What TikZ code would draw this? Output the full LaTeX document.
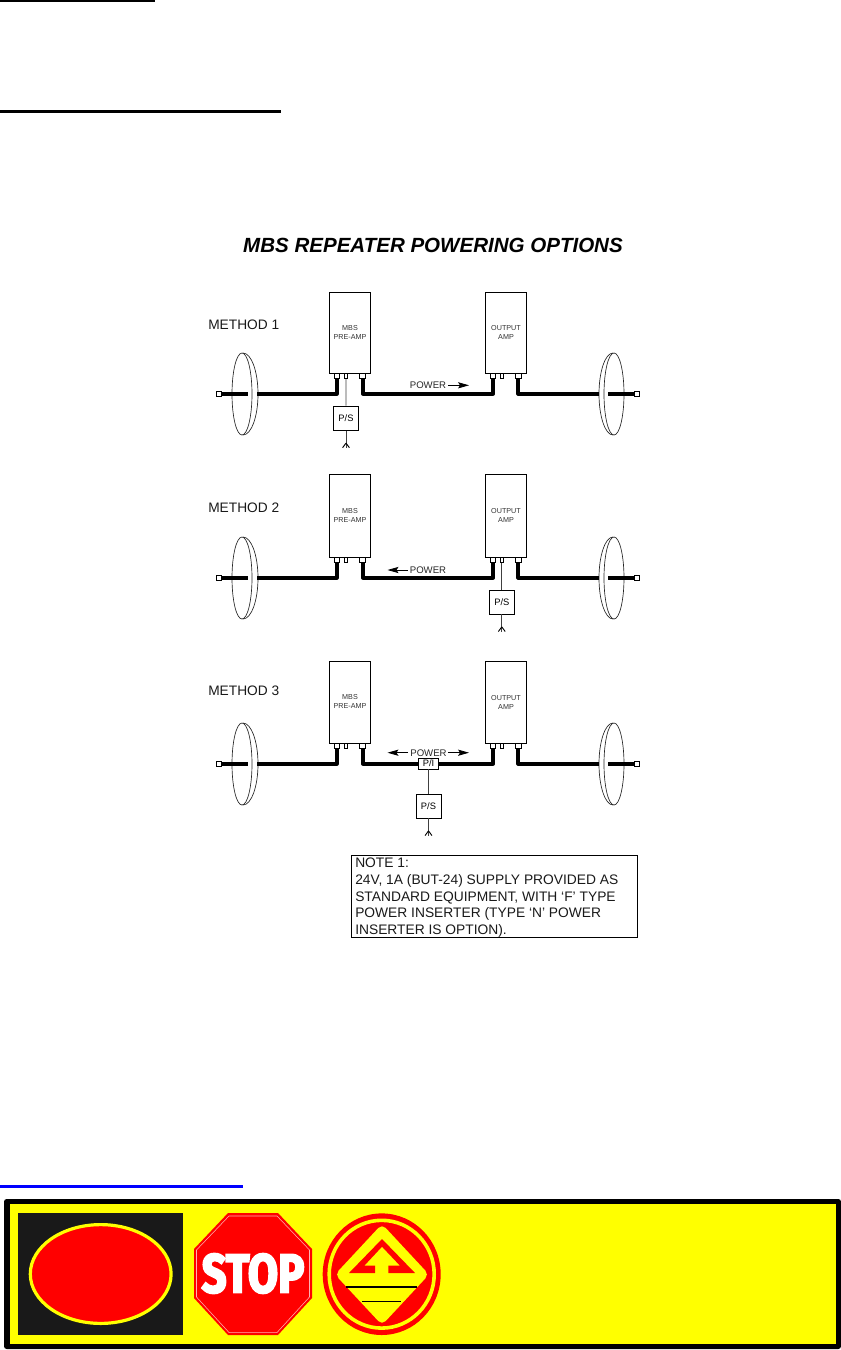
\documentclass[tikz,border=0pt]{standalone}
\usepackage{fontspec}
\usepackage{graphicx}
\setmainfont{Liberation Sans}
\newfontfamily\stopfont[BoldFeatures={FakeBold=4}]{Fira Sans}
\usetikzlibrary{arrows.meta}
\definecolor{sigyellow}{RGB}{255,255,0}
\definecolor{sigred}{RGB}{255,0,0}
\definecolor{sigblue}{RGB}{0,0,255}
\newcommand{\uu}{0.75pt}
\tikzset{
  x=0.75pt,y=-0.75pt,
  rule/.style={line width=2.25pt,line cap=butt},
  ampbox/.style={draw,line width=0.75pt,fill=white,minimum width=41*\uu,inner sep=0pt,font=\fontsize{5.4pt}{6.4pt}\selectfont,align=center,text=black!80},
  port/.style={draw,line width=0.7pt,fill=white,inner sep=0pt,minimum height=5*\uu},
  endsq/.style={draw,line width=0.7pt,fill=white,inner sep=0pt,minimum width=5*\uu,minimum height=5*\uu},
  psbox/.style={draw,line width=0.7pt,fill=white,inner sep=0pt,minimum width=25*\uu,minimum height=24*\uu,font=\fontsize{7pt}{8pt}\selectfont},
  cable/.style={line width=3pt,line join=round,line cap=butt},
  feed/.style={line width=0.55pt,black!75},
  dishline/.style={line width=0.5pt,black!85},
  powerlabel/.style={inner sep=0pt,font=\fontsize{7.2pt}{8pt}\selectfont,text=black!85},
  powerarrow/.style={line width=0.6pt,-{Stealth[length=8.2pt,width=4.6pt,inset=1.5pt]}},
  methodlabel/.style={inner sep=0pt,anchor=west,font=\fontsize{10.3pt}{12pt}\selectfont,text=black!90},
}
% one row: id, y offset, extra box height upward
\newcommand{\repeaterrow}[3]{%
  \begin{scope}[yshift=-#2*\uu]
    \node[ampbox,minimum height=(81+#3)*\uu] (pre#1) at (350,332.8-#3/2) {\raisebox{1.1pt}{\shortstack[c]{MBS\\PRE-AMP}}};
    \node[ampbox,minimum height=(81+#3)*\uu] (out#1) at (506,332.8-#3/2) {\raisebox{-2pt}{\shortstack[c]{OUTPUT\\AMP}}};
    \node[port,minimum width=5.2*\uu] (pa#1) at (336.9,375.8) {};
    \node[port,minimum width=3.4*\uu] (pb#1) at (345.9,375.8) {};
    \node[port,minimum width=6*\uu]   (pc#1) at (362.7,375.8) {};
    \node[port,minimum width=5.2*\uu] (oa#1) at (493.2,375.8) {};
    \node[port,minimum width=3.4*\uu] (ob#1) at (501.8,375.8) {};
    \node[port,minimum width=6*\uu]   (oc#1) at (518.4,375.8) {};
    \node[endsq] (ls#1) at (219,393.5) {};
    \node[endsq] (rs#1) at (637,393.5) {};
    \coordinate (li#1) at (248,393.5);
    \coordinate (lo#1) at (257,393.5);
    \coordinate (ro#1) at (599,393.5);
    \coordinate (ri#1) at (608,393.5);
    \draw[dishline] (242,394) ellipse [x radius=10*\uu,y radius=41*\uu];
    \draw[dishline] (243,353) arc [start angle=90,end angle=-90,x radius=15*\uu,y radius=41*\uu];
    \draw[dishline] (614,394) ellipse [x radius=10*\uu,y radius=41*\uu];
    \draw[dishline] (613,353) arc [start angle=90,end angle=270,x radius=14*\uu,y radius=41*\uu];
    \draw[cable] (ls#1.east) -- (li#1);
    \draw[cable] (lo#1) -| (pa#1.south);
    \draw[cable] (oc#1.south) |- (ro#1);
    \draw[cable] (ri#1) -- (rs#1.west);
  \end{scope}}
% P/S with its feed: id, x, y of the box centre, node it feeds
\newcommand{\psfeed}[4]{%
  \node[psbox] (ps#1) at (#2,#3) {P/S};
  \coordinate (ant#1) at (#2,#3+29.5);
  \draw[feed] (#4.south) -- (ps#1.north);
  \draw[feed] (ps#1.south) -- (ant#1);
  \draw[line width=0.7pt] ([yshift=4.6*\uu]ant#1) -- ++(-3.4,4.6) ([yshift=4.6*\uu]ant#1) -- ++(3.4,4.6);}
\begin{document}
\begin{tikzpicture}
\useasboundingbox (0,0) rectangle (841,1350);
% rules
\coordinate (ta) at (0,1); \coordinate (tb) at (155,1);
\draw[line width=1.6pt] (ta) -- (tb);
\coordinate (tc) at (0,111.5); \coordinate (td) at (281,111.5);
\draw[rule] (tc) -- (td);
\coordinate (bl) at (0,1186.5); \coordinate (br) at (243,1186.5);
\draw[rule,sigblue] (bl) -- (br);
% title
\node[inner sep=0pt,font=\fontsize{15.4pt}{17pt}\selectfont\bfseries\itshape] (title) at (433,245.5) {MBS REPEATER POWERING OPTIONS};
% method labels
\node[methodlabel] (m1) at (208,324.5) {METHOD 1};
\node[methodlabel] (m2) at (208,507.5) {METHOD 2};
\node[methodlabel] (m3) at (208,691) {METHOD 3};
% rows
\repeaterrow{1}{0}{0}
\repeaterrow{2}{184}{1.8}
\repeaterrow{3}{370}{1.3}
% row 1 middle
\coordinate (mid1) at (428,393.5);
\draw[cable] (pc1.south) |- (mid1) -| (oa1.south);
\psfeed{1}{346}{418.2}{pb1}
\node[powerlabel] (pw1) at (428,385.3) {POWER};
\coordinate (pw1a) at (448,385.3); \coordinate (pw1b) at (469,385.3);
\draw[powerarrow] (pw1a) -- (pw1b);
% row 2 middle
\coordinate (mid2) at (428,577.5);
\draw[cable] (pc2.south) |- (mid2) -| (oa2.south);
\psfeed{2}{501.8}{602}{ob2}
\node[powerlabel] (pw2) at (428,570) {POWER};
\coordinate (pw2a) at (408,570); \coordinate (pw2b) at (387.5,570);
\draw[powerarrow] (pw2a) -- (pw2b);
% row 3 middle
\node[draw,line width=0.7pt,fill=white,inner sep=0pt,minimum width=20*\uu,minimum height=11*\uu,font=\fontsize{7pt}{8pt}\selectfont] (pi3) at (428.5,763.5) {P/I};
\draw[cable] (pc3.south) |- (pi3.west);
\draw[cable] (pi3.east) -| (oa3.south);
\psfeed{3}{428.5}{806}{pi3}
\node[powerlabel] (pw3) at (428.5,752.7) {POWER};
\coordinate (pw3a) at (448,752.7); \coordinate (pw3b) at (469,752.7);
\draw[powerarrow] (pw3a) -- (pw3b);
\coordinate (pw3c) at (408,752.7); \coordinate (pw3d) at (387.5,752.7);
\draw[powerarrow] (pw3c) -- (pw3d);
% note
\draw[line width=0.7pt] (351,855) rectangle (637,937);
\node[inner sep=0pt,anchor=north west,align=left,font=\fontsize{10.35pt}{12.45pt}\selectfont,text=black!90] (note) at (355,858) {NOTE 1:\\24V, 1A (BUT-24) SUPPLY PROVIDED AS\\STANDARD EQUIPMENT, WITH ‘F’ TYPE\\POWER INSERTER (TYPE ‘N’ POWER\\INSERTER IS OPTION).};
% banner
\fill[black,rounded corners=2pt] (4,1199) rectangle (841,1349);
\fill[sigyellow] (10,1204) rectangle (836,1344);
\fill[black!90] (18,1213) rectangle (183,1335);
\draw[sigyellow,fill=sigred,line width=2.4pt] (100.7,1274) ellipse [x radius=70.4*\uu,y radius=49.4*\uu];
% stop sign
\fill[sigred] (228,1213) -- (278,1213) -- (312,1249) -- (312,1298) -- (278,1335) -- (228,1335) -- (194,1298) -- (194,1249) -- cycle;
\draw[white!70!sigred,line width=0.4pt] (229,1216) -- (277,1216) -- (309.5,1250) -- (309.5,1297) -- (277,1332.5) -- (229,1332.5) -- (196.5,1297) -- (196.5,1250) -- cycle;
\node[inner sep=0pt,text=white] (stop) at (253,1273.5) {\resizebox{77pt}{29pt}{\stopfont\bfseries STOP}};
% round sign
\fill[sigred] (381.7,1274.2) ellipse [x radius=59*\uu,y radius=60.8*\uu];
\draw[sigyellow,line width=2.7pt] (381.7,1274.2) ellipse [x radius=52.5*\uu,y radius=53.9*\uu];
\fill[sigyellow,rounded corners=4pt] (382,1224) -- (429,1274.5) -- (382,1325) -- (335,1274.5) -- cycle;
\fill[sigred] (382,1239) -- (415,1273) -- (388.3,1273) -- (388.3,1265.7) -- (400,1265.7) -- (382,1246.7) -- (364.3,1265.7) -- (375,1265.7) -- (375,1273) -- (349,1273) -- cycle;
\draw[line width=1.2pt] (346,1286.7) -- (416.7,1286.7);
\draw[line width=0.6pt] (362,1301) -- (400.5,1301);
\end{tikzpicture}
\end{document}
